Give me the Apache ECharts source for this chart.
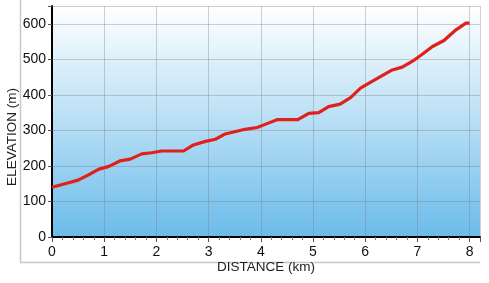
<!DOCTYPE html>
<html><head><meta charset="utf-8">
<script src="https://cdn.jsdelivr.net/npm/echarts@6/dist/echarts.min.js"></script>
<style>html,body{margin:0;padding:0;background:#fff}#c{width:489px;height:283px}</style>
</head><body><div id="c"></div>
<script>
const distanceKm = [0, 0.25, 0.5, 0.7, 0.9, 1.08, 1.3, 1.5, 1.72, 1.91, 2.1, 2.52, 2.71, 2.94, 3.13, 3.32, 3.5, 3.7, 3.93, 4.12, 4.31, 4.71, 4.92, 5.11, 5.3, 5.52, 5.72, 5.91, 6.1, 6.3, 6.52, 6.71, 6.9, 7.1, 7.29, 7.51, 7.74, 7.93, 8.0];
const elevationM = [140, 150, 160, 175, 191, 198, 214, 219, 234, 237, 242, 242, 259, 269, 275, 290, 296, 303, 308, 319, 330, 330, 348, 350, 367, 374, 392, 419, 435, 452, 470, 478, 494, 515, 536, 553, 583, 602, 602];
const xTicks = [0, 1, 2, 3, 4, 5, 6, 7, 8];
const yTicks = [0, 100, 200, 300, 400, 500, 600];
const xTitle = 'DISTANCE (km)';
const yTitle = 'ELEVATION (m)';

const chart = echarts.init(document.getElementById('c'), null, {renderer: 'canvas'});
const font = 'Liberation Sans, Arial, sans-serif';
chart.setOption({
  animation: false,
  graphic: [
    {type: 'polyline', shape: {points: [[20.5, 0], [20.5, 262.5], [480, 262.5]]}, style: {stroke: '#c8c8c8', lineWidth: 1.5, fill: null}, z: -1},
    {type: 'text', x: 12, y: 137, rotation: Math.PI / 2,
      style: {text: yTitle, fill: '#222', font: '13.5px ' + font, align: 'center', verticalAlign: 'middle'}}
  ],
  grid: {left: 52, right: 9, top: 6, bottom: 46, outerBoundsMode: 'none', containLabel: false,
    show: true, borderWidth: 0,
    backgroundColor: {type: 'linear', x: 0, y: 0, x2: 0, y2: 1,
      colorStops: [{offset: 0, color: '#ffffff'}, {offset: 0.45, color: '#bfe2f6'}, {offset: 1, color: '#6bbbea'}]}
  },
  xAxis: {
    type: 'value', min: 0, max: 8.2, interval: 1,
    name: xTitle, nameLocation: 'middle', nameGap: 23, nameMoveOverlap: false,
    nameTextStyle: {color: '#222', fontSize: 13.5, fontFamily: font},
    axisLine: {show: true, onZero: false, lineStyle: {color: '#000', width: 2}},
    axisTick: {show: true, length: 5, lineStyle: {color: '#555'}},
    minorTick: {show: true, splitNumber: 5, length: 3, lineStyle: {color: '#777'}},
    axisLabel: {color: '#111', fontSize: 14, fontFamily: font, margin: 8,
      formatter: v => xTicks.includes(v) ? String(v) : ''},
    splitLine: {show: true, lineStyle: {color: 'rgba(120,120,120,0.35)', width: 1}}
  },
  yAxis: {
    type: 'value', min: 0, max: 650, interval: 100,
    axisLine: {show: true, lineStyle: {color: '#000', width: 2}},
    axisTick: {show: true, length: 4, lineStyle: {color: '#555'}},
    axisLabel: {color: '#111', fontSize: 14, fontFamily: font, margin: 6,
      formatter: v => yTicks.includes(v) ? String(v) : ''},
    splitLine: {show: true, lineStyle: {color: 'rgba(120,120,120,0.35)', width: 1}}
  },
  series: [{
    type: 'line', data: distanceKm.map((d, i) => [d, elevationM[i]]),
    showSymbol: false, smooth: false,
    lineStyle: {color: '#e0201b', width: 3.2, join: 'round'}
  }]
});
</script></body></html>
